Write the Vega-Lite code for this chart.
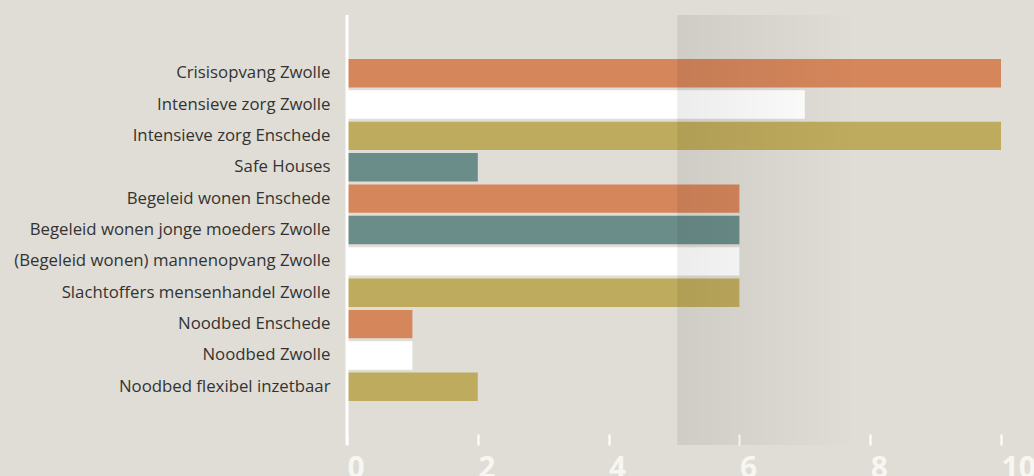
{
  "$schema": "https://vega.github.io/schema/vega-lite/v6.json",
  "autosize": {"type": "none"},
  "padding": {"left": 347, "top": 15, "right": 33, "bottom": 31},
  "width": 654,
  "height": 430,
  "background": "#dfddd5",
  "config": {"view": {"stroke": null}},
  "datasets": {
    "voorzieningen": [
      {"voorziening": "Crisisopvang Zwolle", "aantal": 10, "groep": "A"},
      {"voorziening": "Intensieve zorg Zwolle", "aantal": 7, "groep": "B"},
      {"voorziening": "Intensieve zorg Enschede", "aantal": 10, "groep": "C"},
      {"voorziening": "Safe Houses", "aantal": 2, "groep": "D"},
      {"voorziening": "Begeleid wonen Enschede", "aantal": 6, "groep": "A"},
      {"voorziening": "Begeleid wonen jonge moeders Zwolle", "aantal": 6, "groep": "D"},
      {"voorziening": "(Begeleid wonen) mannenopvang Zwolle", "aantal": 6, "groep": "B"},
      {"voorziening": "Slachtoffers mensenhandel Zwolle", "aantal": 6, "groep": "C"},
      {"voorziening": "Noodbed Enschede", "aantal": 1, "groep": "A"},
      {"voorziening": "Noodbed Zwolle", "aantal": 1, "groep": "B"},
      {"voorziening": "Noodbed flexibel inzetbaar", "aantal": 2, "groep": "C"}
    ],
    "band": [{"van": 5.05, "tot": 7.8}],
    "as": [{"nul": 0}]
  },
  "layer": [
    {
      "data": {"name": "voorzieningen"},
      "mark": {"type": "bar"},
      "encoding": {
        "y": {
          "field": "voorziening",
          "type": "nominal",
          "sort": null,
          "scale": {"range": [44, 386], "paddingInner": 0.095, "paddingOuter": 0},
          "axis": {
            "title": null,
            "ticks": false,
            "domain": false,
            "labelPadding": 17,
            "labelFont": "Open Sans",
            "labelFontSize": 16.8,
            "labelColor": "#333333",
            "labelLimit": 400
          }
        },
        "x": {
          "field": "aantal",
          "type": "quantitative",
          "scale": {"domain": [0, 10], "nice": false},
          "axis": {
            "title": null,
            "grid": false,
            "domain": false,
            "values": [0, 2, 4, 6, 8, 10],
            "format": "d",
            "tickColor": "#ffffff",
            "tickWidth": 2,
            "tickSize": -11,
            "labelPadding": 19,
            "labelAlign": "left",
            "labelBaseline": "top",
            "labelFont": "Open Sans",
            "labelFontWeight": "bold",
            "labelFontSize": 30,
            "labelColor": "#f7f6f2",
            "labelFlush": false,
            "labelOverlap": false
          }
        },
        "color": {
          "field": "groep",
          "type": "nominal",
          "scale": {"domain": ["A", "B", "C", "D"], "range": ["#d5865b", "#ffffff", "#bfab5d", "#6b8d8a"]},
          "legend": null
        }
      }
    },
    {
      "data": {"name": "as"},
      "mark": {"type": "rule", "color": "#ffffff", "strokeWidth": 3},
      "encoding": {
        "x": {"field": "nul", "type": "quantitative"}
      }
    },
    {
      "data": {"name": "band"},
      "mark": {
        "type": "rect",
        "fill": {
          "gradient": "linear",
          "x1": 0, "y1": 0, "x2": 1, "y2": 0,
          "stops": [
            {"offset": 0, "color": "rgba(0,0,0,0.075)"},
            {"offset": 1, "color": "rgba(0,0,0,0)"}
          ]
        }
      },
      "encoding": {
        "x": {"field": "van", "type": "quantitative"},
        "x2": {"field": "tot"}
      }
    }
  ]
}
